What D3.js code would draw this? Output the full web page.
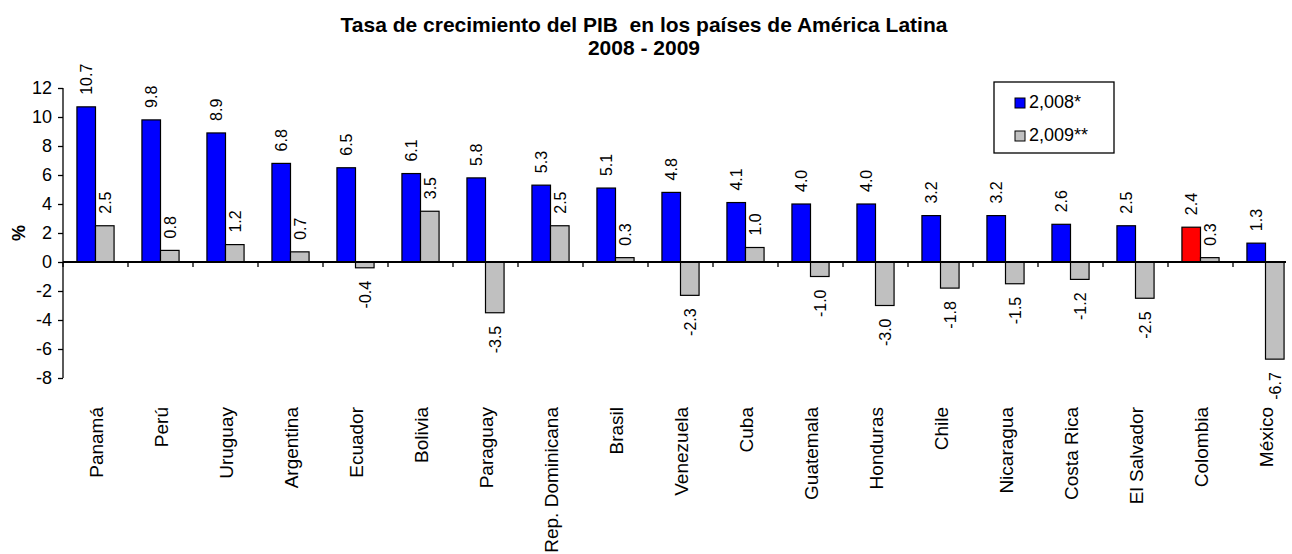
<!DOCTYPE html>
<html>
<head>
<meta charset="utf-8">
<script src="https://cdn.jsdelivr.net/npm/d3@7"></script>
<style>
  html, body { margin: 0; padding: 0; background: #fff; }
  svg text { font-family: Arial, "Liberation Sans", Helvetica, sans-serif; fill: #000; }
</style>
</head>
<body>
<div id="chart"></div>
<script>
// datos: crecimiento del PIB (%)
const paises = ["Panamá", "Perú", "Uruguay", "Argentina", "Ecuador", "Bolivia", "Paraguay",
  "Rep. Dominicana", "Brasil", "Venezuela", "Cuba", "Guatemala", "Honduras", "Chile",
  "Nicaragua", "Costa Rica", "El Salvador", "Colombia", "México"];
const pib2008 = [10.7, 9.8, 8.9, 6.8, 6.5, 6.1, 5.8, 5.3, 5.1, 4.8, 4.1, 4.0, 4.0, 3.2, 3.2, 2.6, 2.5, 2.4, 1.3];
const pib2009 = [2.5, 0.8, 1.2, 0.7, -0.4, 3.5, -3.5, 2.5, 0.3, -2.3, 1.0, -1.0, -3.0, -1.8, -1.5, -1.2, -2.5, 0.3, -6.7];
const series = ["2,008*", "2,009**"];
const yTicks = [-8, -6, -4, -2, 0, 2, 4, 6, 8, 10, 12];
const destacado = "Colombia"; // barra 2008 en rojo

const W = 1292, H = 554;
const svg = d3.select("#chart").append("svg").attr("width", W).attr("height", H);

const colors = { "2,008*": "#0000ff", "2,009**": "#c0c0c0" };

const x = d3.scaleBand().domain(paises).range([63, 1298]);
const xs = d3.scaleBand().domain(series).range([0, x.bandwidth()]).paddingOuter(0.75).paddingInner(0);
const y = d3.scaleLinear().domain([-8, 12]).range([378, 88]);

// formato con guion normal (no signo menos unicode)
const fmt1 = v => v.toFixed(1);

// titulo
const title = svg.append("text").attr("text-anchor", "middle")
  .style("font-size", "21px").style("font-weight", 700).style("white-space", "pre");
title.append("tspan").attr("x", 644).attr("y", 32).text("Tasa de crecimiento del PIB  en los países de América Latina");
title.append("tspan").attr("x", 644).attr("y", 55).text("2008 - 2009");

// eje y
const yAxis = svg.append("g").attr("transform", "translate(63,0)")
  .call(d3.axisLeft(y).tickValues(yTicks).tickSize(5).tickPadding(6).tickFormat(d => String(d)));
yAxis.selectAll("text").style("font-size", "18px").style("font-family", null);
yAxis.selectAll("line, path").attr("stroke", "#000").attr("stroke-width", 1.3);
yAxis.select(".domain").attr("d", `M0,${y(-8)}V${y(12)}`);

svg.append("text")
  .attr("transform", `translate(25,${y(2)}) rotate(-90)`)
  .attr("text-anchor", "middle")
  .style("font-size", "18px").style("font-weight", 700)
  .text("%");

// barras
const rows = paises.map((p, i) => ({ pais: p, vals: [pib2008[i], pib2009[i]] }));
const g = svg.append("g");
rows.forEach(r => {
  r.vals.forEach((v, k) => {
    const s = series[k];
    const bx = x(r.pais) + xs(s);
    let fill = colors[s];
    if (k === 0 && r.pais === destacado) fill = "#ff0000";
    g.append("rect")
      .attr("x", bx)
      .attr("y", y(Math.max(0, v)))
      .attr("width", xs.bandwidth())
      .attr("height", Math.abs(y(v) - y(0)))
      .attr("fill", fill)
      .attr("stroke", "#000")
      .attr("stroke-width", 1.2);

    // etiqueta de valor
    const cx = bx + xs.bandwidth() / 2;
    const ly = v >= 0 ? y(v) - 12 : y(v) + 13;
    g.append("text")
      .attr("transform", `translate(${cx + 6},${ly}) rotate(-90)`)
      .attr("text-anchor", v >= 0 ? "start" : "end")
      .style("font-size", "16px")
      .text(fmt1(v));
  });
});

// eje x
const xAxis = svg.append("g").attr("transform", `translate(0,${y(0)})`)
  .call(d3.axisBottom(x).tickSize(0).tickFormat(""));
xAxis.select(".domain").attr("d", "M63,0H1286").attr("stroke", "#000").attr("stroke-width", 2);
// marcas entre categorias
svg.append("g").selectAll("line").data(paises).join("line")
  .attr("x1", d => x(d)).attr("x2", d => x(d))
  .attr("y1", y(0)).attr("y2", y(0) + 5)
  .attr("stroke", "#000").attr("stroke-width", 1.3);

// etiquetas de categorias
svg.append("g").selectAll("text").data(paises).join("text")
  .attr("transform", d => `translate(${x(d) + x.bandwidth() / 2 + 7},407) rotate(-90)`)
  .attr("text-anchor", "end")
  .style("font-size", "19px")
  .text(d => d);

// leyenda
const lg = svg.append("g").attr("transform", "translate(994,82)");
lg.append("rect").attr("width", 120).attr("height", 71)
  .attr("fill", "#fff").attr("stroke", "#000").attr("stroke-width", 1.3);
series.forEach((s, i) => {
  const row = lg.append("g").attr("transform", `translate(21,${16 + i * 33})`);
  row.append("rect").attr("width", 10).attr("height", 10)
    .attr("fill", colors[s]).attr("stroke", "#000").attr("stroke-width", 1);
  row.append("text").attr("x", 14).attr("y", 10).style("font-size", "18px").text(s);
});
</script>
</body>
</html>
